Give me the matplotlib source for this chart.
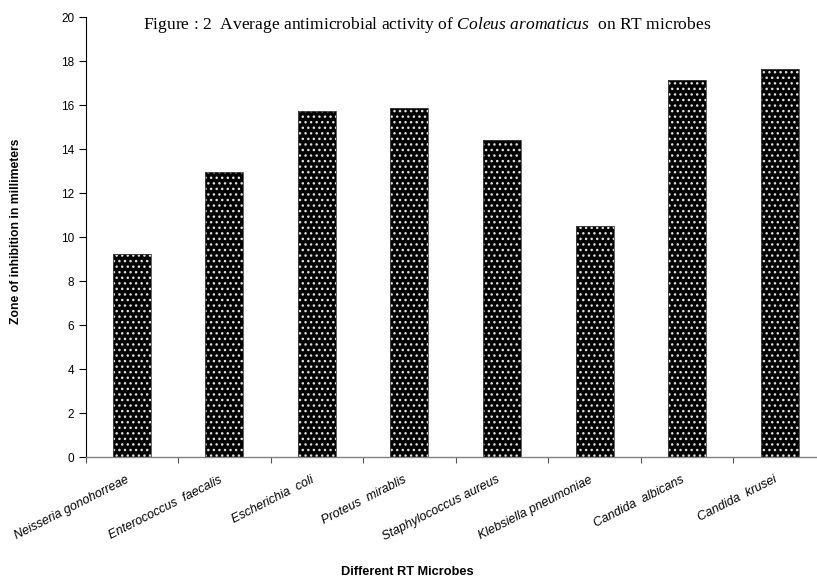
import numpy as np
import matplotlib
matplotlib.use("Agg")
import matplotlib.pyplot as plt
import matplotlib.transforms as mtransforms

###############################################################################
microbes = ["Neisseria gonohorreae", "Enterococcus  faecalis", "Escherichia  coli",
            "Proteus  mirablis", "Staphylococcus aureus", "Klebsiella pneumoniae",
            "Candida  albicans", "Candida  krusei"]
zone = [9.25, 12.95, 15.75, 15.85, 14.4, 10.5, 17.15, 17.65]
yticks = [0, 2, 4, 6, 8, 10, 12, 14, 16, 18, 20]

plt.rcParams['font.family'] = ['Liberation Sans', 'DejaVu Sans']
plt.rcParams['mathtext.fontset'] = 'custom'
plt.rcParams['mathtext.rm'] = 'Liberation Serif'
plt.rcParams['mathtext.it'] = 'Liberation Serif:italic'
plt.rcParams['hatch.linewidth'] = 1.0

fig = plt.figure(figsize=(8.17, 5.81), dpi=100)
# right end of the axis runs off the picture, as in the original
ax = fig.add_axes([85.5 / 817, 124 / 581, (826 - 85.5) / 817, 440 / 581])

x = np.arange(len(microbes))
ax.bar(x, zone, width=0.41, color="black", edgecolor="#e0e0e0",
       linewidth=0, hatch="...")
ax.bar(x, zone, width=0.41, fill=False, edgecolor="#444444", linewidth=0.6)

ax.set_xlim(-0.5, len(microbes) - 0.5)
ax.set_ylim(0, 20)
ax.set_yticks(yticks)
ax.tick_params(axis="y", labelsize=8.5, length=5, width=0.8, pad=3)

# category boundaries get the tick marks, centres get the labels
ax.set_xticks(np.arange(len(microbes) + 1) - 0.5)
ax.set_xticklabels([])
ax.tick_params(axis="x", which="major", length=4, width=0.8, color="#555555")
ax.set_xticks(x, minor=True)
ax.set_xticklabels(microbes, minor=True, rotation=27, ha="right", va="top",
                   rotation_mode="anchor", style="italic", fontsize=9)
ax.tick_params(axis="x", which="minor", length=0, pad=12)
shift = mtransforms.ScaledTranslation(-6 / 100, 0, fig.dpi_scale_trans)
for lab in ax.get_xticklabels(minor=True):
    lab.set_transform(lab.get_transform() + shift)

for s in ["top", "right"]:
    ax.spines[s].set_visible(False)
ax.spines["left"].set_linewidth(0.8)
ax.spines["bottom"].set_color("#808080")
ax.spines["bottom"].set_linewidth(1.0)

fig.text(16.5 / 817, 1 - 231 / 581, "Zone of inhibition in millimeters",
         fontsize=8.7, fontweight="bold", rotation=90, ha="center", va="center")
fig.text(407 / 817, 1 - 572 / 581, "Different RT Microbes", fontsize=9.2,
         fontweight="bold", ha="center", va="center")

fig.text(143 / 817, 1 - 25 / 581,
         r"Figure : 2  Average antimicrobial activity of $\mathit{Coleus\ aromaticus}$  on RT microbes",
         family="Liberation Serif", fontsize=12.6, ha="left", va="center")

fig.savefig("out.png", dpi=100)
